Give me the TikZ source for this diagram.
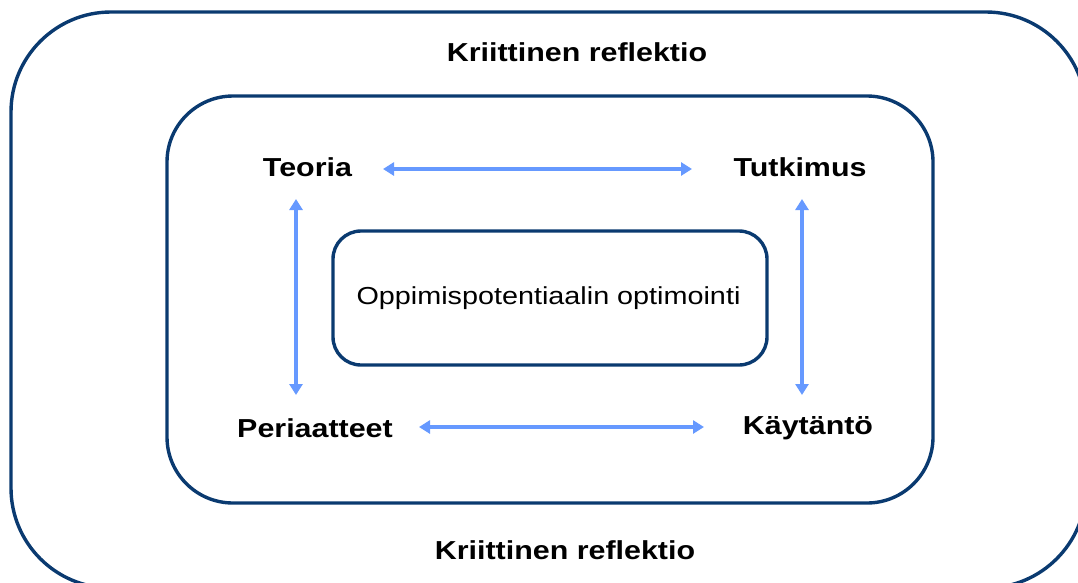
\documentclass[tikz,border=0pt]{standalone}
\usepackage{fontspec}
\setmainfont{Liberation Sans}
\usetikzlibrary{arrows.meta}
\definecolor{boxblue}{RGB}{10,58,112}
\definecolor{arrblue}{RGB}{102,153,255}
\newcommand{\hstr}[1]{\scalebox{1.17}[1]{#1}}
\tikzset{
  frame/.style={draw=boxblue, line width=3.4pt, inner sep=0pt},
  lbl/.style={font=\bfseries\fontsize{26}{30}\selectfont, inner sep=0pt, text=black},
  midlbl/.style={font=\fontsize{24.6}{28}\selectfont, inner sep=0pt, text=black},
  arr/.style={draw=arrblue, line width=3.5pt, {Triangle[length=11pt,width=13pt]}-{Triangle[length=11pt,width=13pt]}}
}
\begin{document}
\begin{tikzpicture}[x=1pt,y=-1pt]
\useasboundingbox (0,0) rectangle (1078,582);
\clip (0,0) rectangle (1078,582);
\node[frame, rounded corners=100pt, minimum width=1075pt, minimum height=576pt] (outer) at (548.5,300) {};
\node[frame, rounded corners=66pt, minimum width=766pt, minimum height=407pt] (inner) at (550,299.5) {};
\node[frame, rounded corners=28pt, minimum width=434pt, minimum height=134pt] (core) at (550,298) {};
\node[midlbl] (coretext) at (548.5,298) {\hstr{Oppimispotentiaalin optimointi}};
\node[lbl] (krtop) at (577,52) {\hstr{Kriittinen reflektio}};
\node[lbl] (krbot) at (565,550) {\hstr{Kriittinen reflektio}};
\node[lbl] (teoria) at (307.5,167) {\hstr{Teoria}};
\node[lbl] (tutkimus) at (800,167) {\hstr{Tutkimus}};
\node[lbl] (periaatteet) at (315,428) {\hstr{Periaatteet}};
\node[lbl] (kaytanto) at (808,428) {\hstr{Käytäntö}};
\coordinate (a1) at (383,169);
\coordinate (a2) at (692,169);
\coordinate (b1) at (419,427);
\coordinate (b2) at (704,427);
\coordinate (c1) at (296,199);
\coordinate (c2) at (296,395);
\coordinate (d1) at (802,199);
\coordinate (d2) at (802,395);
\draw[arr] (a1) -- (a2);
\draw[arr] (b1) -- (b2);
\draw[arr] (c1) -- (c2);
\draw[arr] (d1) -- (d2);
\end{tikzpicture}
\end{document}
